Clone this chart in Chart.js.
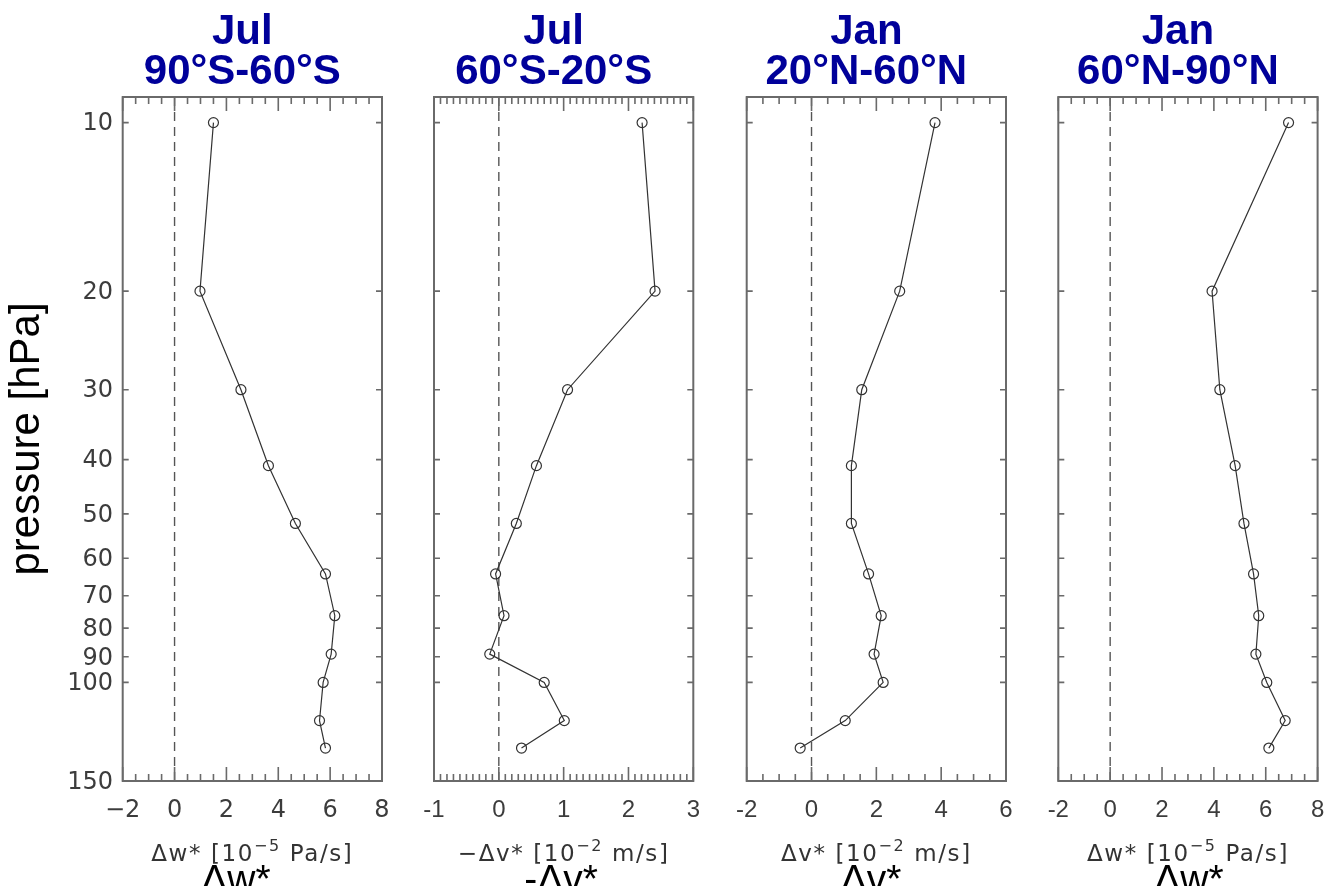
<!DOCTYPE html>
<html>
<head>
<meta charset="utf-8">
<title>Residual circulation anomaly profiles</title>
<script src="https://cdn.jsdelivr.net/npm/chart.js@4.4.1/dist/chart.umd.min.js"></script>
<style>
  html, body { margin: 0; padding: 0; background: #ffffff; overflow: hidden; }
  #wrap { position: relative; width: 1325px; height: 886px; overflow: hidden; }
  #wrap canvas { position: absolute; left: 0; top: 0; }
</style>
</head>
<body>
<div id="wrap">
  <canvas id="panel0" width="1380" height="886"></canvas>
  <canvas id="panel1" width="1380" height="886"></canvas>
  <canvas id="panel2" width="1380" height="886"></canvas>
  <canvas id="panel3" width="1380" height="886"></canvas>
</div>
<script>
// ---- data ---------------------------------------------------------------
// pressure levels of the profiles [hPa]
const pressureLevels = [10, 20, 30, 41, 52, 64, 76, 89, 100, 117, 131];

// anomaly profiles, one per panel
const dwJulSouthPolar  = [1.50, 0.98, 2.56, 3.62, 4.66, 5.82, 6.18, 6.04, 5.73, 5.59, 5.82];   // Δw* [1e-5 Pa/s]
const dvJulSouthMid    = [2.21, 2.41, 1.06, 0.58, 0.27, -0.05, 0.08, -0.14, 0.70, 1.01, 0.35]; // -Δv* [1e-2 m/s]
const dvJanNorthMid    = [3.81, 2.72, 1.55, 1.23, 1.23, 1.76, 2.15, 1.93, 2.21, 1.04, -0.35];  // Δv* [1e-2 m/s]
const dwJanNorthPolar  = [6.88, 3.93, 4.23, 4.82, 5.16, 5.53, 5.73, 5.62, 6.04, 6.75, 6.12];   // Δw* [1e-5 Pa/s]

// panel headings and labels
const panelMonths   = ['Jul', 'Jul', 'Jan', 'Jan'];
const panelBands    = ['90°S-60°S', '60°S-20°S', '20°N-60°N', '60°N-90°N'];
const quantityNames = ['Δw*', '-Δv*', 'Δv*', 'Δw*'];
const unitPrefix    = ['Δw* [10', '−Δv* [10', 'Δv* [10', 'Δw* [10'];
const unitExponent  = ['−5', '−2', '−2', '−5'];
const unitSuffix    = [' Pa/s]', ' m/s]', ' m/s]', ' Pa/s]'];

// axis ranges and ticks
const xMin = [-2, -1, -2, -2];
const xMax = [8, 3, 6, 8];
const xMajorStep = [2, 1, 2, 2];
const xMinorStep = [0.5, 0.1, 0.5, 0.5];
const pressureTicks = [10, 20, 30, 40, 50, 60, 70, 80, 90, 100, 150];
const pressureTop = 9;
const pressureBottom = 150;

const profiles = [dwJulSouthPolar, dvJulSouthMid, dvJanNorthMid, dwJanNorthPolar];

// ---- layout -------------------------------------------------------------
const W = 1380, H = 886;          // canvas size (page shows 1325 px of it)
const panelLeft = [122.7, 434, 746.7, 1058.3];
const panelWidth = 259.3;
const plotTop = 97, plotBottom = 781;
const xAxisHeight = 60;
const headerOffset = -10;
const quantityCenter = [236, 561, 871, 1189];

// ---- plugins ------------------------------------------------------------
// box frame with inward major/minor ticks on all four sides
const frameTicks = {
  id: 'frameTicks',
  afterDraw(chart, args, o) {
    const { ctx, chartArea: a } = chart;
    const x = chart.scales.x, y = chart.scales.y;
    ctx.save();
    ctx.strokeStyle = '#6a6a6a';
    ctx.lineWidth = 1.6;
    ctx.beginPath();
    const n = Math.round((x.max - x.min) / o.minorStep);
    for (let i = 0; i <= n; i++) {
      const v = x.min + i * o.minorStep;
      const r = v / o.majorStep;
      const major = Math.abs(r - Math.round(r)) < 1e-6;
      const len = major ? 14 : 7;
      const px = x.getPixelForValue(v);
      ctx.moveTo(px, a.bottom); ctx.lineTo(px, a.bottom - len);
      ctx.moveTo(px, a.top); ctx.lineTo(px, a.top + len);
    }
    y.ticks.forEach(t => {
      const py = y.getPixelForValue(t.value);
      ctx.moveTo(a.left, py); ctx.lineTo(a.left + 6, py);
      ctx.moveTo(a.right, py); ctx.lineTo(a.right - 6, py);
    });
    ctx.stroke();
    ctx.lineWidth = 2;
    ctx.strokeRect(a.left, a.top, a.right - a.left, a.bottom - a.top);
    ctx.restore();
  }
};

// panel heading, unit line below the axis, and quantity name
const panelText = {
  id: 'panelText',
  afterDraw(chart, args, o) {
    const { ctx, chartArea: a } = chart;
    const cx = (a.left + a.right) / 2;
    ctx.save();
    ctx.textAlign = 'center';
    ctx.textBaseline = 'alphabetic';
    ctx.fillStyle = '#00009a';
    ctx.font = 'bold 42px "Liberation Sans", Arial, sans-serif';
    ctx.fillText(o.month, cx + headerOffset, 43.5);
    ctx.fillText(o.band, cx + headerOffset, 83.5);

    // unit line with raised exponent
    const mainFont = '23px "DejaVu Sans", sans-serif';
    const supFont = '16px "DejaVu Sans", sans-serif';
    ctx.letterSpacing = '1.6px';
    ctx.font = mainFont; const w1 = ctx.measureText(o.unit[0]).width;
    ctx.font = supFont;  const w2 = ctx.measureText(o.unit[1]).width;
    ctx.font = mainFont; const w3 = ctx.measureText(o.unit[2]).width;
    let sx = cx - (w1 + w2 + w3) / 2;
    ctx.textAlign = 'left';
    ctx.fillStyle = '#333333';
    ctx.font = mainFont; ctx.fillText(o.unit[0], sx, 861); sx += w1;
    ctx.font = supFont;  ctx.fillText(o.unit[1], sx, 851); sx += w2;
    ctx.font = mainFont; ctx.fillText(o.unit[2], sx, 861);
    ctx.letterSpacing = '0px';

    ctx.textAlign = 'center';
    ctx.fillStyle = '#000000';
    ctx.font = '39px "Liberation Sans", Arial, sans-serif';
    ctx.fillText(o.quantity, o.quantityX, 892);
    ctx.restore();
  }
};

// ---- charts -------------------------------------------------------------
function fmtTick(v, i) {
  if (v < 0) return (i === 0 ? '−' : '-') + Math.abs(v);
  return String(v);
}

for (let i = 0; i < 4; i++) {
  const first = i === 0;
  const profile = pressureLevels.map((p, k) => ({ x: profiles[i][k], y: p }));
  const zeroLine = [{ x: 0, y: pressureTop }, { x: 0, y: pressureBottom }];

  new Chart(document.getElementById('panel' + i), {
    type: 'scatter',
    data: {
      datasets: [
        {
          data: profile,
          showLine: true,
          borderColor: '#333333',
          borderWidth: 1.2,
          pointStyle: 'circle',
          pointRadius: 5,
          pointBorderWidth: 1.2,
          pointBorderColor: '#333333',
          pointBackgroundColor: 'rgba(0,0,0,0)',
          order: 0
        },
        {
          data: zeroLine,
          showLine: true,
          borderColor: '#555555',
          borderWidth: 1.4,
          borderDash: [9, 6],
          pointRadius: 0,
          order: 1
        }
      ]
    },
    options: {
      responsive: false,
      animation: false,
      devicePixelRatio: 1,
      events: [],
      layout: {
        padding: {
          left: first ? 0 : panelLeft[i],
          right: W - panelLeft[i] - panelWidth,
          top: plotTop,
          bottom: H - plotBottom - xAxisHeight
        }
      },
      scales: {
        x: {
          type: 'linear',
          position: 'bottom',
          min: xMin[i],
          max: xMax[i],
          grid: { display: false, drawTicks: false },
          border: { display: false },
          ticks: {
            stepSize: xMajorStep[i],
            autoSkip: false,
            maxRotation: 0,
            padding: 15,
            color: '#3c3c3c',
            font: first ? { family: '"DejaVu Sans", sans-serif', size: 24 }
                        : { family: '"Liberation Sans", Arial, sans-serif', size: 24 },
            callback: v => fmtTick(v, i)
          },
          afterFit: s => { s.height = xAxisHeight; }
        },
        y: {
          type: 'logarithmic',
          position: 'left',
          reverse: true,
          min: pressureTop,
          max: pressureBottom,
          display: first,
          grid: { display: false, drawTicks: false },
          border: { display: false },
          afterBuildTicks: s => { s.ticks = pressureTicks.map(v => ({ value: v })); },
          ticks: {
            autoSkip: false,
            padding: 9.7,
            labelOffset: 1.5,
            color: '#3c3c3c',
            font: { family: '"DejaVu Sans", sans-serif', size: 24 },
            callback: v => String(v)
          },
          title: {
            display: first,
            text: 'pressure [hPa]',
            color: '#000000',
            font: { family: '"Liberation Sans", Arial, sans-serif', size: 42 },
            padding: { top: 2, bottom: 0 }
          },
          afterFit: s => { s.width = first ? panelLeft[0] : 0; }
        }
      },
      plugins: {
        legend: { display: false },
        tooltip: { enabled: false },
        frameTicks: { majorStep: xMajorStep[i], minorStep: xMinorStep[i] },
        panelText: {
          month: panelMonths[i],
          band: panelBands[i],
          unit: [unitPrefix[i], unitExponent[i], unitSuffix[i]],
          quantity: quantityNames[i],
          quantityX: quantityCenter[i]
        }
      }
    },
    plugins: [frameTicks, panelText]
  });
}
</script>
</body>
</html>
